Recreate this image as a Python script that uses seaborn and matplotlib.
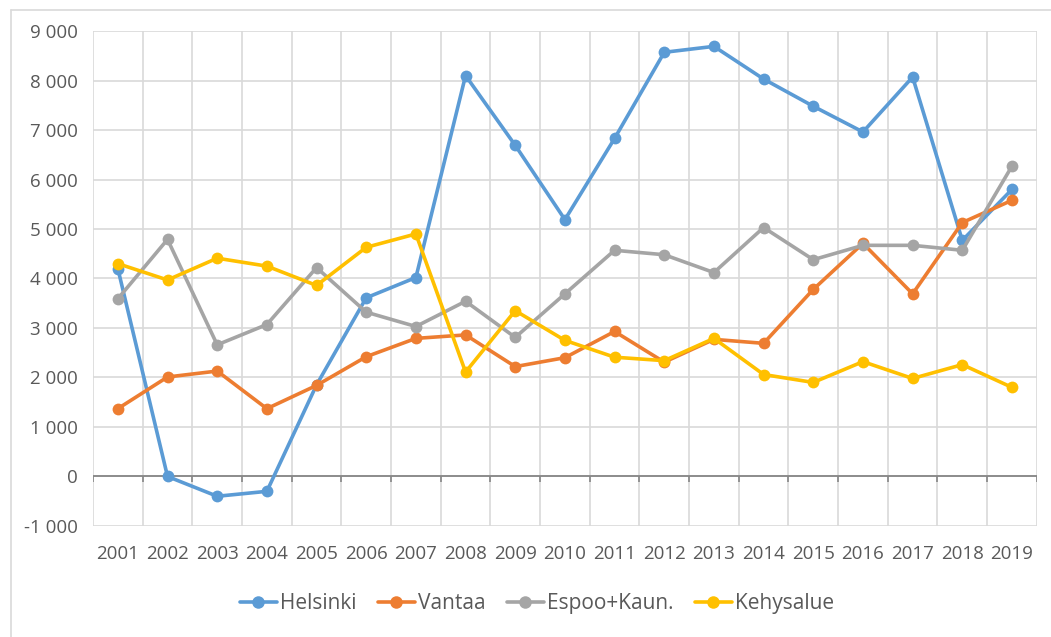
import matplotlib
matplotlib.use("Agg")
import matplotlib.pyplot as plt
from matplotlib.lines import Line2D
from matplotlib.ticker import FuncFormatter, MultipleLocator
import seaborn as sns
import pandas as pd

years = list(range(2001, 2020))
helsinki = [4200, 0, -400, -300, 1850, 3610, 4020, 8100, 6690, 5190, 6830, 8570, 8690, 8030, 7480, 6960, 8070, 4770, 5800]
vantaa = [1370, 2010, 2130, 1370, 1840, 2420, 2790, 2860, 2220, 2400, 2930, 2310, 2770, 2690, 3780, 4710, 3690, 5130, 5580]
espoo = [3590, 4790, 2660, 3070, 4220, 3320, 3030, 3540, 2810, 3690, 4570, 4480, 4120, 5030, 4380, 4670, 4670, 4570, 6270]
kehys = [4300, 3970, 4410, 4250, 3860, 4630, 4900, 2110, 3350, 2750, 2410, 2340, 2790, 2060, 1900, 2320, 1980, 2260, 1800]
series_names = ["Helsinki", "Vantaa", "Espoo+Kaun.", "Kehysalue"]
colors = ["#5B9BD5", "#ED7D31", "#A5A5A5", "#FFC000"]

rows = []
for name, vals in zip(series_names, [helsinki, vantaa, espoo, kehys]):
    for i, v in enumerate(vals):
        rows.append({"pos": i, "year": years[i], "value": v, "series": name})
df = pd.DataFrame(rows)

sns.set_style("white")
plt.rcParams["font.family"] = ["Open Sans", "DejaVu Sans"]
text_color = "#595959"

fig = plt.figure(figsize=(10.51, 6.37), dpi=100)
ax = fig.add_axes([0.0885, 0.1743, 0.898, 0.777])

sns.lineplot(data=df, x="pos", y="value", hue="series", hue_order=series_names,
             palette=colors, marker="o", markersize=8.5, markeredgewidth=0,
             linewidth=2.6, ax=ax, legend=False)

ax.set_xlim(-0.5, len(years) - 0.5)
ax.set_ylim(-1000, 9000)
ax.yaxis.set_major_locator(MultipleLocator(1000))
ax.yaxis.set_major_formatter(FuncFormatter(lambda v, p: f"{int(v):,}".replace(",", " ")))
ax.set_xticks(range(len(years)))
ax.set_xticklabels([str(y) for y in years])
ax.set_xticks([i + 0.5 for i in range(-1, len(years))], minor=True)
ax.grid(True, which="major", axis="y", color="#D9D9D9", linewidth=1.2)
ax.grid(True, which="minor", axis="x", color="#D9D9D9", linewidth=1.2)
ax.set_axisbelow(True)
for s in ax.spines.values():
    s.set_visible(False)
ax.tick_params(axis="both", which="both", length=0, labelsize=13.5, colors=text_color)
ax.tick_params(axis="x", pad=14)
ax.tick_params(axis="y", pad=11)
ax.set_xlabel("")
ax.set_ylabel("")

# zero axis line with category tick marks
ax.axhline(0, color="#868686", linewidth=1.3, zorder=1.5)
ax.vlines([i + 0.5 for i in range(-1, len(years))], -110, 0, color="#868686", linewidth=1.2, zorder=1.5)

handles = [Line2D([0], [0], color=c, marker="o", markersize=9, markeredgewidth=0, linewidth=2.6)
           for c in colors]
fig.legend(handles, series_names, loc="center", bbox_to_anchor=(0.511, 0.052), ncol=4,
           frameon=False, fontsize=15, labelcolor=text_color, handlelength=1.8,
           handletextpad=0.15, columnspacing=1.0)

# chart border
fig.add_artist(Line2D([0.0105, 0.0105], [0.0, 0.984], color="#D9D9D9", linewidth=1.2))
fig.add_artist(Line2D([0.0105, 1.0], [0.984, 0.984], color="#D9D9D9", linewidth=1.2))

fig.savefig("out.png", dpi=100)
